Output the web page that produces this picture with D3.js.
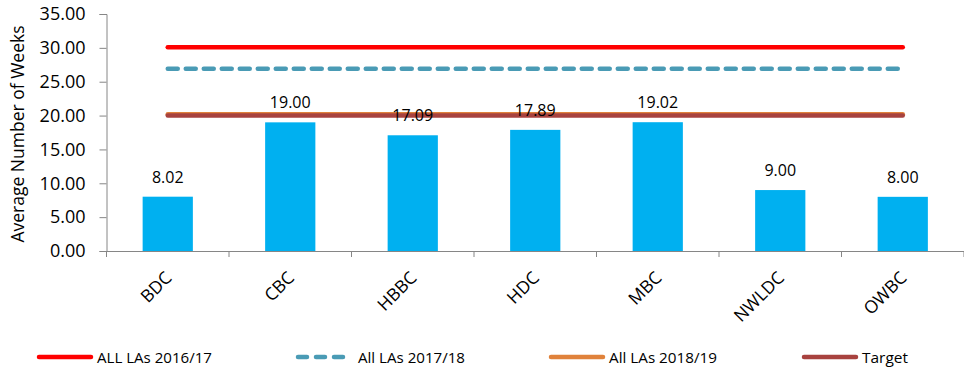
<!DOCTYPE html>
<html><head><meta charset="utf-8">
<script src="https://cdn.jsdelivr.net/npm/d3@7"></script>
<style>body{margin:0;background:#fff;} svg{display:block;font-family:"Open Sans","Noto Sans",sans-serif;}</style>
</head><body>
<svg id="chart" width="964" height="369"></svg>
<script>
const categories = ["BDC","CBC","HBBC","HDC","MBC","NWLDC","OWBC"];
const barValues = [8.02,19.00,17.09,17.89,19.02,9.00,8.00];
const yTicks = [0,5,10,15,20,25,30,35];
const lineSeries = [
  {name:"ALL LAs 2016/17", value:30.1, color:"#FF0000", dash:null},
  {name:"All LAs 2017/18", value:26.9, color:"#4A9BB5", dash:"10,8"},
  {name:"All LAs 2018/19", value:20.2, color:"#E0823B", dash:null},
  {name:"Target", value:20.0, color:"#A8423F", dash:null}
];

(function(){
const svg = d3.select("#chart");
const mLeft = 106.5, mRight = 964, mTop = 14, mBottom = 251;
const x = d3.scaleBand().domain(categories).range([mLeft, mRight]).paddingInner(0.59).paddingOuter(0.295);
const y = d3.scaleLinear().domain([0,35]).range([mBottom, mTop]);

// y axis
const yAxis = svg.append("g").attr("transform",`translate(${mLeft},0)`)
  .call(d3.axisLeft(y).tickValues(yTicks).tickFormat(d3.format(".2f")).tickSize(7).tickPadding(14));
yAxis.select(".domain").attr("stroke","#868686");
yAxis.selectAll(".tick line").attr("stroke","#868686");
yAxis.selectAll(".tick text").attr("font-size",18).attr("fill","#000").attr("font-family","Open Sans");

// bars
svg.append("g").selectAll("rect").data(categories).join("rect")
  .attr("x", d=>x(d)).attr("width", x.bandwidth())
  .attr("y", (d,i)=>y(barValues[i])).attr("height",(d,i)=>y(0)-y(barValues[i]))
  .attr("fill","#00B0F0");

// x axis
const step = x.step();
const xg = svg.append("g");
xg.append("line").attr("x1",mLeft).attr("x2",mRight).attr("y1",mBottom+0.5).attr("y2",mBottom+0.5).attr("stroke","#868686");
const bounds = d3.range(categories.length+1).map(i=>mLeft + i*step);
xg.selectAll("line.t").data(bounds).join("line").attr("class","t")
  .attr("x1",d=>d).attr("x2",d=>d).attr("y1",mBottom).attr("y2",mBottom+6).attr("stroke","#868686");
xg.selectAll("text").data(categories).join("text")
  .attr("transform", d=>`translate(${x(d)+x.bandwidth()/2+5},${mBottom+28}) rotate(-45)`)
  .attr("text-anchor","end").attr("font-size",17.5).attr("fill","#000").text(d=>d);

// lines
const first = x(categories[0])+x.bandwidth()/2, last = x(categories[categories.length-1])+x.bandwidth()/2;
svg.append("g").selectAll("line").data(lineSeries).join("line")
  .attr("x1",first).attr("x2",last).attr("y1",d=>y(d.value)).attr("y2",d=>y(d.value))
  .attr("stroke",d=>d.color).attr("stroke-width",4.5).attr("stroke-linecap","round")
  .attr("stroke-dasharray",d=>d.dash);

// data labels
svg.append("g").selectAll("text").data(categories).join("text")
  .attr("x", d=>x(d)+x.bandwidth()/2).attr("y",(d,i)=>y(barValues[i])-14)
  .attr("text-anchor","middle").attr("font-size",16).attr("fill","#000")
  .text((d,i)=>barValues[i].toFixed(2));

// y title
svg.append("text").attr("transform","translate(24,134) rotate(-90)").attr("text-anchor","middle")
  .attr("font-size",17.5).attr("fill","#000").text("Average Number of Weeks");

// legend
const legX = [37,296,549,802];
const legTextW = [115,107,108,46];
const lg = svg.append("g").selectAll("g").data(lineSeries).join("g")
  .attr("transform",(d,i)=>`translate(${legX[i]},357)`);
lg.append("line").attr("x1",2).attr("x2",54).attr("y1",0).attr("y2",0)
  .attr("stroke",d=>d.color).attr("stroke-width",4.5).attr("stroke-linecap","round")
  .attr("stroke-dasharray",d=>d.dash ? "9,9" : null);
lg.append("text").attr("x",(d,i)=>i===1?62:60).attr("y",5.5).attr("font-size",14.5).attr("fill","#000")
  .attr("textLength",(d,i)=>legTextW[i]).attr("lengthAdjust","spacingAndGlyphs").text(d=>d.name);
})();
</script>
</body></html>
